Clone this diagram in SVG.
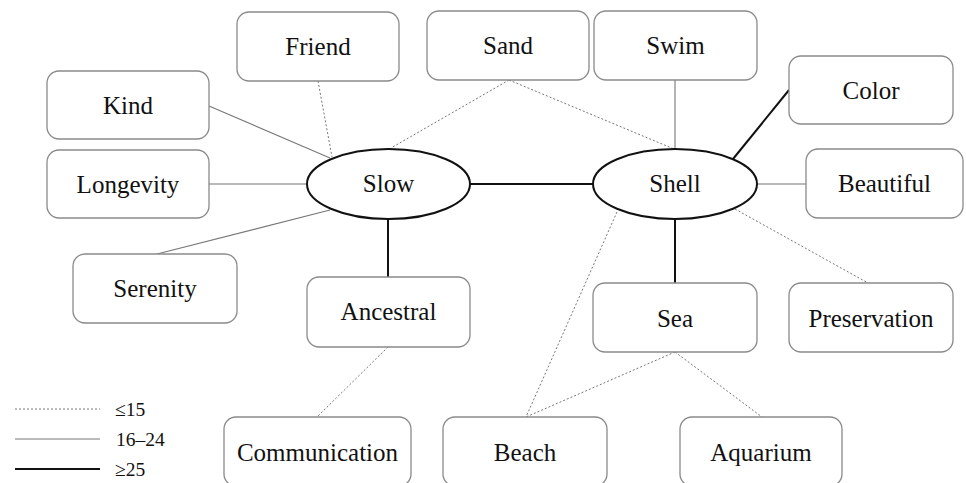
<svg xmlns="http://www.w3.org/2000/svg" width="966" height="483" viewBox="0 0 966 483">
  <style>
    .box { fill: #ffffff; stroke: #8a8a8a; stroke-width: 1.3; }
    .hub { fill: #ffffff; stroke: #111111; stroke-width: 2; }
    .lbl { font-family: "Liberation Serif", "Times New Roman", serif; font-size: 25px; fill: #111111; text-anchor: middle; }
    .leg { font-family: "Liberation Serif", "Times New Roman", serif; font-size: 19.5px; fill: #111111; }
    .weak { stroke: #777777; stroke-width: 1; stroke-dasharray: 2 2; fill: none; }
    .mid { stroke: #777777; stroke-width: 1.1; fill: none; }
    .strong { stroke: #111111; stroke-width: 2; fill: none; }
  </style>
  <rect width="966" height="483" fill="#ffffff"/>

  <!-- links between words -->
  <g id="connectors">
    <line class="strong" x1="470" y1="184" x2="593" y2="184"/>
    <line class="strong" x1="388" y1="219" x2="388" y2="277"/>
    <line class="strong" x1="675" y1="219" x2="675" y2="283"/>
    <line class="strong" x1="733" y1="159" x2="789" y2="90"/>
    <line class="mid" x1="208" y1="184" x2="307" y2="184"/>
    <line class="mid" x1="209" y1="106" x2="330" y2="158"/>
    <line class="mid" x1="330" y1="210" x2="157" y2="254"/>
    <line class="mid" x1="675" y1="80" x2="675" y2="149"/>
    <line class="mid" x1="757" y1="184" x2="806" y2="184"/>
    <line class="weak" x1="318" y1="81" x2="332" y2="157"/>
    <line class="weak" x1="509" y1="80" x2="391" y2="148"/>
    <line class="weak" x1="509" y1="80" x2="674" y2="149"/>
    <line class="weak" x1="735" y1="209" x2="868" y2="283"/>
    <line class="weak" x1="617" y1="212" x2="526" y2="417"/>
    <line class="weak" x1="675" y1="352" x2="526" y2="417"/>
    <line class="weak" x1="675" y1="352" x2="762" y2="417"/>
    <line class="weak" x1="388" y1="347" x2="317" y2="417"/>
  </g>

  <g id="slow">
    <ellipse class="hub" cx="388.5" cy="184" rx="81.5" ry="35"/>
    <text class="lbl" x="388.5" y="192">Slow</text>
  </g>
  <g id="shell">
    <ellipse class="hub" cx="675" cy="184" rx="82" ry="35"/>
    <text class="lbl" x="675" y="192">Shell</text>
  </g>

  <g id="friend">
    <rect class="box" x="237" y="12" width="162" height="69" rx="12"/>
    <text class="lbl" x="318" y="55">Friend</text>
  </g>
  <g id="kind">
    <rect class="box" x="47" y="71" width="162" height="68" rx="12"/>
    <text class="lbl" x="128" y="114">Kind</text>
  </g>
  <g id="longevity">
    <rect class="box" x="47" y="150" width="162" height="68" rx="12"/>
    <text class="lbl" x="128" y="193">Longevity</text>
  </g>
  <g id="serenity">
    <rect class="box" x="73" y="254" width="164" height="69" rx="12"/>
    <text class="lbl" x="155" y="297">Serenity</text>
  </g>
  <g id="ancestral">
    <rect class="box" x="307" y="277" width="163" height="70" rx="12"/>
    <text class="lbl" x="388.5" y="320">Ancestral</text>
  </g>
  <g id="communication">
    <rect class="box" x="224" y="417" width="187" height="69" rx="12"/>
    <text class="lbl" x="317.5" y="461">Communication</text>
  </g>
  <g id="sand">
    <rect class="box" x="427" y="11" width="162" height="69" rx="12"/>
    <text class="lbl" x="508" y="54">Sand</text>
  </g>
  <g id="swim">
    <rect class="box" x="594" y="11" width="163" height="69" rx="12"/>
    <text class="lbl" x="675.5" y="54">Swim</text>
  </g>
  <g id="color">
    <rect class="box" x="789" y="56" width="164" height="68" rx="12"/>
    <text class="lbl" x="871" y="99">Color</text>
  </g>
  <g id="beautiful">
    <rect class="box" x="806" y="149" width="157" height="69" rx="12"/>
    <text class="lbl" x="884.5" y="192">Beautiful</text>
  </g>
  <g id="preservation">
    <rect class="box" x="789" y="283" width="164" height="69" rx="12"/>
    <text class="lbl" x="871" y="327">Preservation</text>
  </g>
  <g id="sea">
    <rect class="box" x="593" y="283" width="164" height="69" rx="12"/>
    <text class="lbl" x="675" y="327">Sea</text>
  </g>
  <g id="beach">
    <rect class="box" x="443" y="417" width="164" height="69" rx="12"/>
    <text class="lbl" x="525" y="461">Beach</text>
  </g>
  <g id="aquarium">
    <rect class="box" x="680" y="417" width="162" height="69" rx="12"/>
    <text class="lbl" x="761" y="461">Aquarium</text>
  </g>

  <!-- key for line weights -->
  <g id="legend">
    <line class="weak" x1="15" y1="409" x2="100" y2="409"/>
    <line class="mid" x1="15" y1="439" x2="100" y2="439"/>
    <line class="strong" x1="15" y1="469" x2="100" y2="469"/>
    <text class="leg" x="115" y="416">≤15</text>
    <text class="leg" x="116" y="446">16–24</text>
    <text class="leg" x="115" y="476">≥25</text>
  </g>
</svg>
